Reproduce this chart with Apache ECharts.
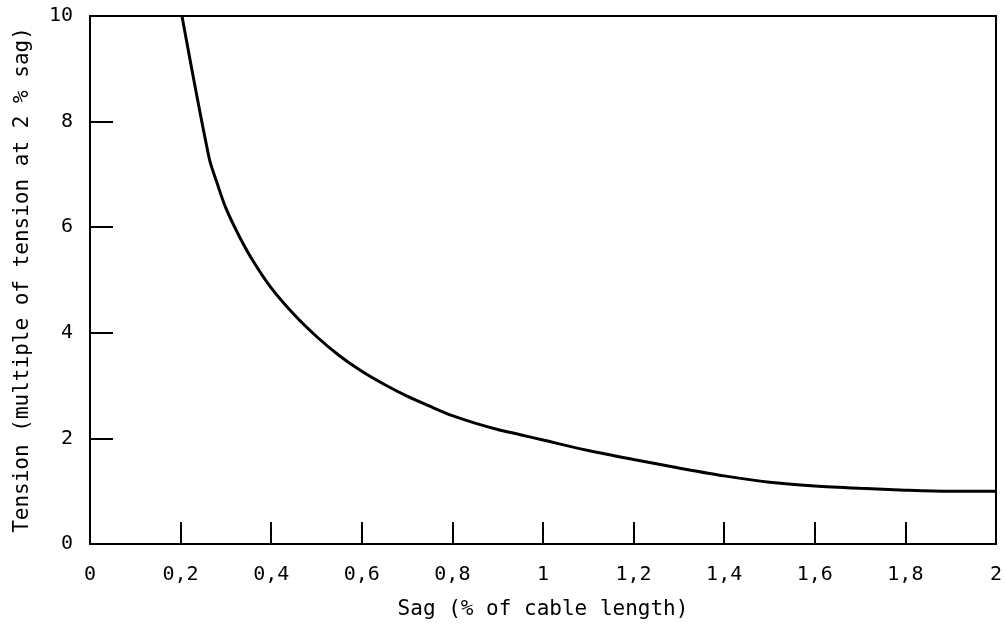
<!DOCTYPE html>
<html>
<head>
<meta charset="utf-8">
<script src="https://cdn.jsdelivr.net/npm/echarts@6/dist/echarts.min.js"></script>
<style>
html,body{margin:0;padding:0;background:#fff;}
#chart{width:1005px;height:628px;}
</style>
</head>
<body>
<div id="chart"></div>
<script>
// Sag (% of cable length)
const sag = [0.203, 0.263, 0.28, 0.30, 0.33, 0.36, 0.40, 0.45, 0.50, 0.55, 0.60, 0.65, 0.70, 0.75, 0.80, 0.85, 0.90, 0.95, 1.0, 1.1, 1.2, 1.3, 1.4, 1.5, 1.6, 1.7, 1.8, 1.9, 2.0];
// Tension (multiple of tension at 2 % sag)
const tension = [10.0, 7.31, 6.85, 6.36, 5.82, 5.36, 4.85, 4.35, 3.93, 3.57, 3.27, 3.02, 2.80, 2.61, 2.43, 2.29, 2.17, 2.07, 1.97, 1.77, 1.60, 1.44, 1.29, 1.17, 1.10, 1.055, 1.02, 1.0, 1.0];
const xTickLabels = ['0', '0,2', '0,4', '0,6', '0,8', '1', '1,2', '1,4', '1,6', '1,8', '2'];
const yTickLabels = ['0', '2', '4', '6', '8', '10'];
const xTitle = 'Sag (% of cable length)';
const yTitle = 'Tension (multiple of tension at 2 % sag)';

const FONT = '"DejaVu Sans Mono", monospace';
const chart = echarts.init(document.getElementById('chart'), null, {renderer: 'canvas'});
chart.setOption({
  backgroundColor: '#ffffff',
  animation: false,
  grid: {left: 90, right: 9, top: 16, bottom: 84, show: true, borderColor: '#000', borderWidth: 2, backgroundColor: 'transparent'},
  xAxis: {
    type: 'value', min: 0, max: 2, interval: 0.2,
    name: xTitle, nameLocation: 'middle', nameGap: 55,
    nameTextStyle: {fontFamily: FONT, fontSize: 21, color: '#000'},
    axisLine: {show: true, lineStyle: {color: '#000', width: 2}},
    axisTick: {show: true, inside: true, length: 22, lineStyle: {color: '#000', width: 2}},
    axisLabel: {
      margin: 21, fontFamily: FONT, fontSize: 20, color: '#000',
      formatter: function (v) { return xTickLabels[Math.round(v / 0.2)]; }
    },
    splitLine: {show: false}
  },
  yAxis: {
    type: 'value', min: 0, max: 10, interval: 2,
    name: yTitle, nameLocation: 'middle', nameGap: 57, nameRotate: 90,
    nameTextStyle: {fontFamily: FONT, fontSize: 21, color: '#000'},
    axisLine: {show: true, lineStyle: {color: '#000', width: 2}},
    axisTick: {show: true, inside: true, length: 23, lineStyle: {color: '#000', width: 2}},
    axisLabel: {
      margin: 17, fontFamily: FONT, fontSize: 20, color: '#000',
      formatter: function (v) { return yTickLabels[Math.round(v / 2)]; }
    },
    splitLine: {show: false}
  },
  series: [{
    type: 'line',
    data: sag.map((x, i) => [x, tension[i]]),
    showSymbol: false,
    smooth: 0.3,
    lineStyle: {color: '#000', width: 3},
    clip: true
  }]
});
</script>
</body>
</html>
